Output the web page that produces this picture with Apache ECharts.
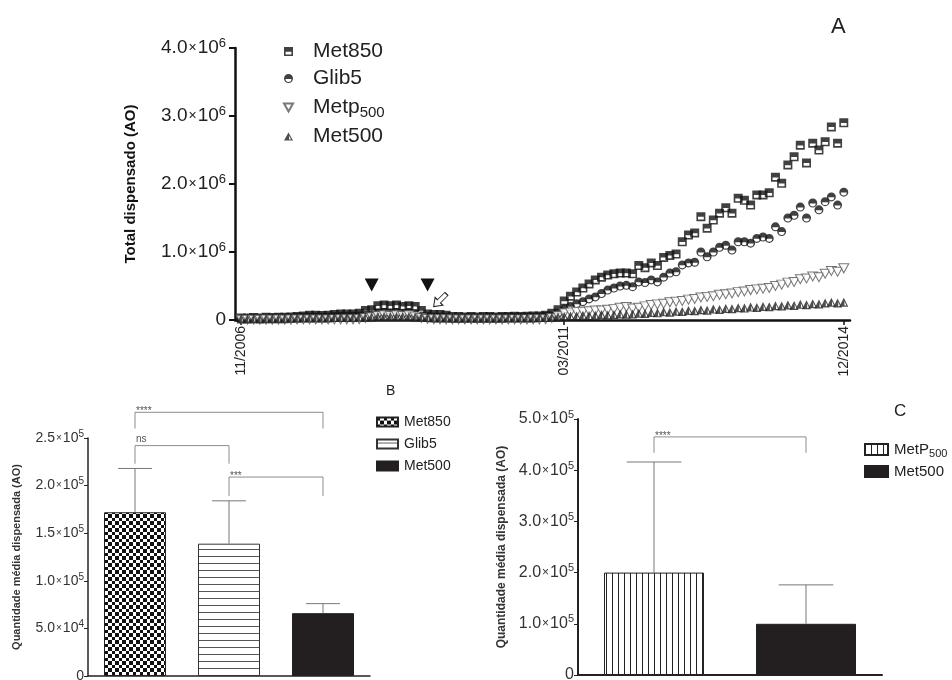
<!DOCTYPE html>
<html>
<head>
<meta charset="utf-8">
<title>Total dispensado (AO)</title>
<script src="https://cdn.jsdelivr.net/npm/echarts@6/dist/echarts.min.js"></script>
<style>
  html, body { margin: 0; background: #fff; }
  #chart { width: 952px; height: 680px; }
</style>
</head>
<body>
<div id="chart"></div>
<script>
// --- panel A: monthly totals (x 10^6 AO), 11/2006 .. 12/2014 ---
const met850 = [
  0.03, 0.03, 0.035, 0.03, 0.04, 0.035, 0.04, 0.04, 0.045, 0.05,
  0.06, 0.07, 0.07, 0.065, 0.07, 0.08, 0.09, 0.09, 0.09, 0.1,
  0.14, 0.15, 0.21, 0.22, 0.21, 0.22, 0.2, 0.21, 0.2, 0.14,
  0.09, 0.08, 0.08, 0.07, 0.05, 0.05, 0.045, 0.05, 0.045, 0.05,
  0.05, 0.045, 0.05, 0.05, 0.055, 0.05, 0.055, 0.06, 0.06, 0.07,
  0.1, 0.15, 0.28, 0.35, 0.41, 0.47, 0.53, 0.59, 0.63, 0.66,
  0.68, 0.69, 0.69, 0.68, 0.8, 0.77, 0.84, 0.8, 0.92, 0.95,
  0.97, 1.15, 1.25, 1.28, 1.52, 1.35, 1.47, 1.57, 1.65, 1.57,
  1.79, 1.76, 1.69, 1.84, 1.84, 1.87, 2.1, 2.01, 2.28, 2.4,
  2.57, 2.31, 2.6, 2.5, 2.62, 2.84, 2.6, 2.9
];
const glib5 = [
  0.02, 0.02, 0.025, 0.02, 0.03, 0.025, 0.03, 0.03, 0.03, 0.035,
  0.04, 0.045, 0.045, 0.04, 0.045, 0.05, 0.055, 0.055, 0.055, 0.06,
  0.07, 0.08, 0.1, 0.11, 0.1, 0.11, 0.1, 0.11, 0.09, 0.06,
  0.05, 0.045, 0.04, 0.04, 0.03, 0.03, 0.03, 0.035, 0.03, 0.03,
  0.035, 0.03, 0.035, 0.035, 0.04, 0.035, 0.04, 0.04, 0.045, 0.05,
  0.06, 0.1, 0.16, 0.2, 0.24, 0.27, 0.31, 0.34, 0.39, 0.44,
  0.47, 0.5, 0.51, 0.49, 0.56, 0.55, 0.59, 0.56, 0.63, 0.69,
  0.71, 0.81, 0.84, 0.85, 1.0, 0.93, 1.0, 1.07, 1.1, 1.03,
  1.15, 1.15, 1.13, 1.2, 1.22, 1.2, 1.37, 1.3, 1.5, 1.54,
  1.66, 1.5, 1.72, 1.62, 1.74, 1.81, 1.69, 1.88
];
const metp500 = [
  0.004, 0.005, 0.004, 0.005, 0.006, 0.005, 0.006, 0.005, 0.006, 0.007,
  0.007, 0.008, 0.008, 0.007, 0.008, 0.009, 0.01, 0.01, 0.01, 0.012,
  0.03, 0.04, 0.06, 0.07, 0.06, 0.07, 0.06, 0.07, 0.05, 0.03,
  0.015, 0.012, 0.01, 0.01, 0.008, 0.008, 0.007, 0.008, 0.007, 0.008,
  0.008, 0.007, 0.008, 0.008, 0.009, 0.008, 0.009, 0.01, 0.01, 0.012,
  0.03, 0.06, 0.1, 0.11, 0.12, 0.12, 0.13, 0.14, 0.14, 0.15,
  0.16, 0.18, 0.19, 0.17, 0.18, 0.2, 0.22, 0.23, 0.24, 0.26,
  0.27, 0.28, 0.3, 0.31, 0.33, 0.34, 0.35, 0.37, 0.38, 0.39,
  0.41, 0.42, 0.44, 0.45, 0.46, 0.47, 0.5, 0.52, 0.55, 0.56,
  0.6, 0.61, 0.64, 0.63, 0.68, 0.72, 0.71, 0.76
];
const met500 = [
  0.015, 0.015, 0.02, 0.015, 0.02, 0.02, 0.02, 0.02, 0.025, 0.025,
  0.03, 0.03, 0.03, 0.03, 0.03, 0.035, 0.035, 0.035, 0.035, 0.04,
  0.04, 0.045, 0.05, 0.05, 0.05, 0.05, 0.05, 0.05, 0.045, 0.04,
  0.035, 0.03, 0.03, 0.03, 0.025, 0.025, 0.025, 0.025, 0.025, 0.025,
  0.025, 0.025, 0.025, 0.03, 0.03, 0.03, 0.03, 0.03, 0.035, 0.035,
  0.04, 0.045, 0.05, 0.06, 0.06, 0.07, 0.065, 0.07, 0.08, 0.075,
  0.08, 0.09, 0.085, 0.09, 0.1, 0.095, 0.11, 0.105, 0.12, 0.115,
  0.13, 0.125, 0.14, 0.135, 0.15, 0.145, 0.16, 0.155, 0.17, 0.165,
  0.18, 0.175, 0.19, 0.185, 0.2, 0.195, 0.21, 0.205, 0.22, 0.215,
  0.23, 0.225, 0.24, 0.235, 0.25, 0.26, 0.25, 0.26
];
const tickLabels = ['11/2006', '03/2011', '12/2014'];

// --- panel B ---
const catsB = ['Met850', 'Glib5', 'Met500'];
const meanB = [172000, 139000, 66000];
const upperB = [218000, 184000, 76000];
const sigFromB = [0, 0, 1];
const sigToB = [2, 1, 2];
const sigTopB = [277000, 242000, 209000];
const sigLegB = [260000, 223000, 189000];
const sigTextB = ['****', 'ns', '***'];

// --- panel C ---
const catsC = ['MetP500', 'Met500'];
const meanC = [200000, 100000];
const upperC = [416000, 176000];
const sigFromC = [0];
const sigToC = [1];
const sigTopC = [465000];
const sigLegC = [434000];
const sigTextC = ['****'];

const FONT = '"Liberation Sans", Arial, sans-serif';

// month names 11/2006 .. 12/2014
const months = [];
for (let k = 0; k < met850.length; k++) {
  const m = (10 + k) % 12 + 1;
  const y = 2006 + Math.floor((10 + k) / 12);
  months.push((m < 10 ? '0' : '') + m + '/' + y);
}
const categories = [''].concat(months, [' ']);

// fill patterns
function tile(w, h, draw) {
  const c = document.createElement('canvas');
  c.width = w; c.height = h;
  const g = c.getContext('2d');
  g.fillStyle = '#fff';
  g.fillRect(0, 0, w, h);
  draw(g);
  return { image: c, repeat: 'repeat' };
}
const checker = tile(7, 7, g => {
  g.fillStyle = '#111';
  g.fillRect(0, 0, 3, 3);
  g.fillRect(3, 3, 4, 4);
});
const hStripes = tile(4, 7, g => {
  g.fillStyle = '#555';
  g.fillRect(0, 3, 4, 1);
});
const vStripes = tile(6, 4, g => {
  g.fillStyle = '#222';
  g.fillRect(0, 0, 1, 4);
});

const squareHalf = 'path://M0,0L10,0L10,10L0,10Z M1.8,5.2L1.8,8.2L8.2,8.2L8.2,5.2Z';
const circleHalf = 'path://M0,5A5,5 0 1,1 10,5A5,5 0 1,1 0,5Z M8.3,5.5L1.7,5.5A3.3,3.3 0 0,0 8.3,5.5Z';
const triDown = 'path://M0,0L10,0L5,9Z';
const triHalf = 'path://M5,0L10,9L0,9Z M5.7,3.4L5.7,7.8L7.9,7.8Z';
const arrow = 'path://M3,0L7,0L7,7L10,7L5,12L0,7L3,7Z';

function sci(v) {
  if (v === 0) return '{n|0}';
  const e = Math.floor(Math.log10(v) + 1e-9);
  const m = v / Math.pow(10, e);
  return '{n|' + m.toFixed(1) + '}{x|×}{n|10}{s|' + e + '}';
}
function sciRich(size, color) {
  const sup = Math.round(size * 0.68);
  return {
    n: { fontSize: size, lineHeight: size + 4, color: color, fontFamily: FONT },
    x: { fontSize: Math.round(size * 0.72), lineHeight: size + 4, color: color, fontFamily: FONT, padding: [0, 1, 0, 1] },
    s: { fontSize: sup, lineHeight: sup, verticalAlign: 'top', color: color, fontFamily: FONT }
  };
}
function subName(name) {
  const n = name.replace(/^[BC]·/, '');
  const m = n.match(/^(.*?)(500)$/);
  if (m && /p$/i.test(m[1])) return '{t|' + m[1] + '}{sub|500}';
  return '{t|' + n + '}';
}

function errorSeries(idx, mean, upper) {
  return {
    type: 'custom',
    xAxisIndex: idx, yAxisIndex: idx,
    clip: false, z: 5,
    data: mean.map((m, i) => [i, m, upper[i]]),
    renderItem: function (params, api) {
      const lo = api.coord([api.value(0), api.value(1)]);
      const hi = api.coord([api.value(0), api.value(2)]);
      const half = api.size([1, 0])[0] * 0.18;
      const st = { stroke: '#777', lineWidth: 1 };
      return {
        type: 'group',
        children: [
          { type: 'line', shape: { x1: lo[0], y1: lo[1], x2: hi[0], y2: hi[1] }, style: st },
          { type: 'line', shape: { x1: hi[0] - half, y1: hi[1], x2: hi[0] + half, y2: hi[1] }, style: st }
        ]
      };
    }
  };
}
function bracketSeries(idx, from, to, top, leg, texts) {
  return {
    type: 'custom',
    xAxisIndex: idx, yAxisIndex: idx,
    clip: false, z: 5,
    data: from.map((f, i) => [f, to[i], top[i], leg[i]]),
    renderItem: function (params, api) {
      const a = api.coord([api.value(0), api.value(2)]);
      const b = api.coord([api.value(1), api.value(2)]);
      const legY = api.coord([api.value(0), api.value(3)])[1];
      const t = texts[params.dataIndex];
      const star = /^\*+$/.test(t);
      return {
        type: 'group',
        children: [
          {
            type: 'polyline',
            shape: { points: [[a[0], legY], [a[0], a[1]], [b[0], b[1]], [b[0], legY]] },
            style: { stroke: '#8c8c8c', lineWidth: 1, fill: 'none' }
          },
          {
            type: 'text', x: a[0] + 1, y: a[1] + (star ? 4 : -1),
            style: { text: t, fontSize: 10, fontFamily: FONT, fill: '#555', align: 'left', verticalAlign: 'bottom' }
          }
        ]
      };
    }
  };
}

const myChart = echarts.init(document.getElementById('chart'));

const option = {
  animation: false,
  backgroundColor: '#fff',
  textStyle: { fontFamily: FONT },
  title: [
    { text: 'A', left: 826, top: 11, textStyle: { fontSize: 22, fontWeight: 'normal', color: '#222', fontFamily: FONT } },
    { text: 'B', left: 381, top: 379, textStyle: { fontSize: 14, fontWeight: 'normal', color: '#222', fontFamily: FONT } },
    { text: 'C', left: 889, top: 398, textStyle: { fontSize: 17, fontWeight: 'normal', color: '#222', fontFamily: FONT } }
  ],
  legend: [
    {
      orient: 'vertical', left: 278, top: 36,
      itemWidth: 9, itemHeight: 9, itemGap: 6,
      data: ['Met850', 'Glib5', 'Metp500', 'Met500'],
      formatter: subName,
      textStyle: {
        padding: [0, 0, 0, 15],
        rich: {
          t: { fontSize: 21, lineHeight: 21, verticalAlign: 'top', color: '#222', fontFamily: FONT },
          sub: { fontSize: 15, lineHeight: 15, padding: [10, 0, 0, 0], color: '#222', fontFamily: FONT }
        }
      }
    },
    {
      orient: 'vertical', left: 371, top: 410, icon: 'rect',
      itemWidth: 21, itemHeight: 9, itemGap: 8,
      data: ['B·Met850', 'B·Glib5', 'B·Met500'],
      formatter: subName,
      textStyle: {
        padding: [0, 0, 0, 1],
        rich: { t: { fontSize: 14, lineHeight: 14, color: '#222', fontFamily: FONT } }
      }
    },
    {
      orient: 'vertical', left: 859, top: 435, icon: 'rect',
      itemWidth: 23, itemHeight: 11, itemGap: 5,
      data: ['C·MetP500', 'C·Met500'],
      formatter: subName,
      textStyle: {
        padding: [0, 0, 0, 1],
        rich: {
          t: { fontSize: 15, lineHeight: 15, verticalAlign: 'top', color: '#222', fontFamily: FONT },
          sub: { fontSize: 11, lineHeight: 11, padding: [8, 0, 0, 0], color: '#222', fontFamily: FONT }
        }
      }
    }
  ],
  grid: [
    { left: 235, top: 48, width: 615, height: 272, outerBoundsMode: 'none' },
    { left: 88, top: 438, width: 282, height: 238, outerBoundsMode: 'none' },
    { left: 578, top: 419, width: 304, height: 256, outerBoundsMode: 'none' }
  ],
  xAxis: [
    {
      gridIndex: 0, type: 'category', data: categories, boundaryGap: false,
      axisLine: { lineStyle: { color: '#111', width: 2.5 } },
      axisTick: { show: true, length: 5, interval: (i, v) => tickLabels.includes(v), lineStyle: { color: '#111', width: 1.5 } },
      axisLabel: { interval: (i, v) => tickLabels.includes(v), rotate: 90, margin: 6, fontSize: 14, color: '#222', fontFamily: FONT },
      splitLine: { show: false }
    },
    {
      gridIndex: 1, type: 'category', data: catsB,
      axisLine: { lineStyle: { color: '#222', width: 1.5 } },
      axisTick: { show: false }, axisLabel: { show: false }
    },
    {
      gridIndex: 2, type: 'category', data: catsC,
      axisLine: { lineStyle: { color: '#222', width: 2 } },
      axisTick: { show: false }, axisLabel: { show: false }
    }
  ],
  yAxis: [
    {
      gridIndex: 0, type: 'value', min: 0, max: 4000000, interval: 1000000,
      name: 'Total dispensado (AO)', nameLocation: 'middle', nameGap: 97,
      nameTextStyle: { fontSize: 15, fontWeight: 'bold', color: '#111', fontFamily: FONT },
      axisLine: { show: true, lineStyle: { color: '#111', width: 2.5 } },
      axisTick: { show: true, length: 6, lineStyle: { color: '#111', width: 2 } },
      axisLabel: { margin: 9, formatter: sci, rich: sciRich(19, '#222') },
      splitLine: { show: false }
    },
    {
      gridIndex: 1, type: 'value', min: 0, max: 250000, interval: 50000,
      name: 'Quantidade média dispensada (AO)', nameLocation: 'middle', nameGap: 66,
      nameTextStyle: { fontSize: 11, fontWeight: 'bold', color: '#333', fontFamily: FONT },
      axisLine: { show: true, lineStyle: { color: '#222', width: 1.5 } },
      axisTick: { show: true, length: 4, lineStyle: { color: '#222' } },
      axisLabel: { margin: 4, formatter: sci, rich: sciRich(14, '#333') },
      splitLine: { show: false }
    },
    {
      gridIndex: 2, type: 'value', min: 0, max: 500000, interval: 100000,
      name: 'Quantidade média dispensada (AO)', nameLocation: 'middle', nameGap: 70,
      nameTextStyle: { fontSize: 12, fontWeight: 'bold', color: '#333', fontFamily: FONT },
      axisLine: { show: true, lineStyle: { color: '#222', width: 2 } },
      axisTick: { show: true, length: 4, lineStyle: { color: '#222' } },
      axisLabel: { margin: 4, formatter: sci, rich: sciRich(16, '#333') },
      splitLine: { show: false }
    }
  ],
  series: [
    {
      name: 'Met850', type: 'scatter', xAxisIndex: 0, yAxisIndex: 0,
      symbol: squareHalf, symbolSize: 9,
      itemStyle: { color: '#111' },
      data: met850.map((v, i) => [months[i], v * 1e6]),
      markPoint: {
        label: { show: false },
        data: [
          { coord: ['08/2008', 515000], symbol: 'triangle', symbolRotate: 180, symbolSize: [14, 13], itemStyle: { color: '#111' } },
          { coord: ['05/2009', 515000], symbol: 'triangle', symbolRotate: 180, symbolSize: [14, 13], itemStyle: { color: '#111' } },
          { coord: ['07/2009', 290000], symbol: arrow, symbolRotate: -45, symbolSize: [11, 18], itemStyle: { color: '#fff', borderColor: '#222', borderWidth: 1 } }
        ]
      }
    },
    {
      name: 'Glib5', type: 'scatter', xAxisIndex: 0, yAxisIndex: 0,
      symbol: circleHalf, symbolSize: 9,
      itemStyle: { color: '#111' },
      data: glib5.map((v, i) => [months[i], v * 1e6])
    },
    {
      name: 'Metp500', type: 'scatter', xAxisIndex: 0, yAxisIndex: 0,
      symbol: triDown, symbolSize: [10, 9],
      itemStyle: { color: '#fff', borderColor: '#555', borderWidth: 1 },
      data: metp500.map((v, i) => [months[i], v * 1e6])
    },
    {
      name: 'Met500', type: 'scatter', xAxisIndex: 0, yAxisIndex: 0,
      symbol: triHalf, symbolSize: [9, 9],
      itemStyle: { color: '#222' },
      data: met500.map((v, i) => [months[i], v * 1e6])
    },

    {
      name: 'B·Met850', type: 'bar', xAxisIndex: 1, yAxisIndex: 1, barWidth: 62, barGap: '-100%',
      itemStyle: { color: checker, borderColor: '#222', borderWidth: 1 },
      data: meanB.map((v, i) => (i === 0 ? v : '-'))
    },
    {
      name: 'B·Glib5', type: 'bar', xAxisIndex: 1, yAxisIndex: 1, barWidth: 62, barGap: '-100%',
      itemStyle: { color: hStripes, borderColor: '#333', borderWidth: 1 },
      data: meanB.map((v, i) => (i === 1 ? v : '-'))
    },
    {
      name: 'B·Met500', type: 'bar', xAxisIndex: 1, yAxisIndex: 1, barWidth: 62, barGap: '-100%',
      itemStyle: { color: '#231f20', borderColor: '#231f20', borderWidth: 1 },
      data: meanB.map((v, i) => (i === 2 ? v : '-'))
    },
    errorSeries(1, meanB, upperB),
    bracketSeries(1, sigFromB, sigToB, sigTopB, sigLegB, sigTextB),

    {
      name: 'C·MetP500', type: 'bar', xAxisIndex: 2, yAxisIndex: 2, barWidth: 100, barGap: '-100%',
      itemStyle: { color: vStripes, borderColor: '#222', borderWidth: 1 },
      data: meanC.map((v, i) => (i === 0 ? v : '-'))
    },
    {
      name: 'C·Met500', type: 'bar', xAxisIndex: 2, yAxisIndex: 2, barWidth: 100, barGap: '-100%',
      itemStyle: { color: '#231f20', borderColor: '#231f20', borderWidth: 1 },
      data: meanC.map((v, i) => (i === 1 ? v : '-'))
    },
    errorSeries(2, meanC, upperC),
    bracketSeries(2, sigFromC, sigToC, sigTopC, sigLegC, sigTextC)
  ]
};

myChart.setOption(option);
window.addEventListener('resize', function () {
  myChart.resize();
});
</script>
</body>
</html>
